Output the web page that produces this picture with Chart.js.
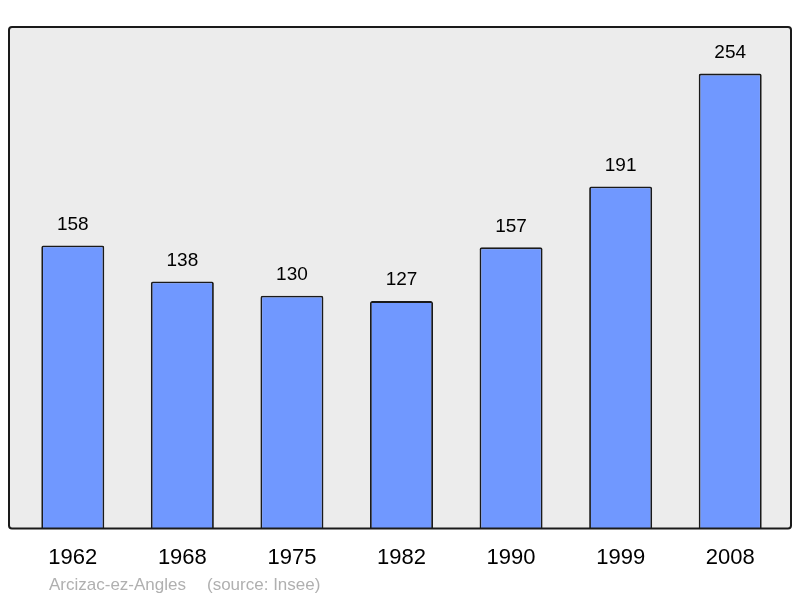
<!DOCTYPE html>
<html>
<head>
<meta charset="utf-8">
<script src="https://cdn.jsdelivr.net/npm/chart.js@4"></script>
<style>
  html, body { margin: 0; padding: 0; background: #fff; }
  #wrap { width: 800px; height: 598px; position: relative; }
</style>
</head>
<body>
<div id="wrap"><canvas id="popChart"></canvas></div>
<script>
// Population data (source: Insee)
const years = ['1962', '1968', '1975', '1982', '1990', '1999', '2008'];
const population = [158, 138, 130, 127, 157, 191, 254];
const placeName = 'Arcizac-ez-Angles';
const sourceNote = '(source: Insee)';

// gray box behind the bars, border drawn after bars
const framePlugin = {
    id: 'frame',
    beforeDraw(chart) {
        const a = chart.chartArea, c = chart.ctx;
        c.save();
        c.fillStyle = '#ececec';
        c.beginPath();
        c.roundRect(a.left - 9, a.top, a.right - a.left + 15, a.bottom - a.top, 3);
        c.fill();
        c.restore();
    },
    afterDatasetsDraw(chart) {
        const a = chart.chartArea, c = chart.ctx;
        c.save();
        c.strokeStyle = '#1a1a1a';
        c.lineWidth = 2;
        c.beginPath();
        c.roundRect(a.left - 9, a.top, a.right - a.left + 15, a.bottom - a.top, 3);
        c.stroke();
        // value labels above bars
        c.fillStyle = '#000';
        c.font = '19px "Liberation Sans", Arial, sans-serif';
        c.textAlign = 'center';
        c.textBaseline = 'middle';
        chart.getDatasetMeta(0).data.forEach((bar, i) => {
            c.fillText(population[i], bar.x, bar.y - 21);
        });
        // caption
        c.fillStyle = '#b0b0b0';
        c.font = '17px "Liberation Sans", Arial, sans-serif';
        c.textAlign = 'left';
        c.fillText(placeName, 49, 585);
        c.fillText(sourceNote, 207, 585);
        c.restore();
    }
};

const ctx = document.getElementById('popChart').getContext('2d');
new Chart(ctx, {
    type: 'bar',
    data: {
        labels: years,
        datasets: [{
            data: population,
            backgroundColor: '#7098ff',
            borderColor: '#1a1a1a',
            borderWidth: 1.8,
            borderRadius: 2,
            borderSkipped: 'bottom',
            barPercentage: 0.575,
            categoryPercentage: 1
        }]
    },
    options: {
        responsive: true,
        maintainAspectRatio: false,
        animation: false,
        layout: {
            padding: { left: 18, right: 15, top: 27, bottom: 19 }
        },
        plugins: {
            legend: { display: false },
            tooltip: { enabled: false }
        },
        scales: {
            x: {
                grid: { display: false },
                border: { display: false },
                ticks: {
                    color: '#000',
                    padding: 8,
                    font: { family: '"Liberation Sans", Arial, sans-serif', size: 22 }
                }
            },
            y: {
                display: false,
                min: 0,
                max: 280
            }
        }
    },
    plugins: [framePlugin]
});
</script>
</body>
</html>
